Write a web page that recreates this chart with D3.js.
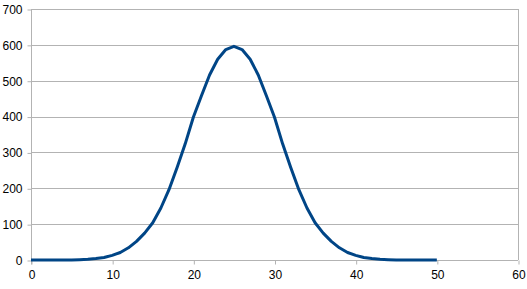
<!DOCTYPE html>
<html>
<head>
<meta charset="utf-8">
<script src="https://cdn.jsdelivr.net/npm/d3@7"></script>
<style>
  body { margin: 0; background: #fff; }
  svg { display: block; }
</style>
</head>
<body>
<div id="chart"></div>
<script>
// values, one per integer x from 0 to 50
let xs = d3.range(0, 51)
let counts = [0, 0, 0, 0, 0, 0, 1, 2, 4, 7,
              13, 21, 34, 52, 75, 104, 145, 196, 258, 324,
              398, 458, 516, 560, 587, 596, 587, 560, 516, 458,
              398, 324, 258, 196, 145, 104, 75, 52, 34, 21,
              13, 7, 4, 2, 1, 0, 0, 0, 0, 0,
              0]
let xTicks = [0, 10, 20, 30, 40, 50, 60]
let yTicks = [0, 100, 200, 300, 400, 500, 600, 700]

let width = 527
let height = 289
let margin = {top: 9, right: 9, bottom: 29, left: 31}
let grid = "#b3b3b3"

let svg = d3.select("#chart")
  .append("svg")
  .attr("width", width)
  .attr("height", height)

let x = d3.scaleLinear()
  .domain([0, 60])
  .range([margin.left, width - margin.right])

let y = d3.scaleLinear()
  .domain([0, 700])
  .range([height - margin.bottom, margin.top])

// horizontal grid
svg.append("g")
  .selectAll("line")
  .data(yTicks)
  .join("line")
    .attr("x1", x(0))
    .attr("x2", x(60))
    .attr("y1", d => Math.round(y(d)) + 0.5)
    .attr("y2", d => Math.round(y(d)) + 0.5)
    .attr("stroke", grid)

// right border
svg.append("line")
  .attr("x1", Math.round(x(60)) + 0.5)
  .attr("x2", Math.round(x(60)) + 0.5)
  .attr("y1", y(700))
  .attr("y2", y(0))
  .attr("stroke", grid)

let yAxis = g => g
  .attr("transform", `translate(${Math.round(x(0)) + 0.5},0.5)`)
  .call(d3.axisLeft(y).tickValues(yTicks).tickSize(4).tickPadding(5))
  .call(g => g.selectAll(".tick line").attr("stroke", grid))
  .call(g => g.select(".domain").attr("stroke", grid).attr("d", `M0,${y(700)}V${y(0) + 4}`))

let xAxis = g => g
  .attr("transform", `translate(0.5,${Math.round(y(0)) + 0.5})`)
  .call(d3.axisBottom(x).tickValues(xTicks).tickSize(4).tickPadding(6))
  .call(g => g.selectAll(".tick line").attr("stroke", grid))
  .call(g => g.select(".domain").remove())

svg.append("g").call(yAxis)
svg.append("g").call(xAxis)

svg.selectAll(".tick text")
  .attr("font-family", "'Liberation Sans', Arial, sans-serif")
  .attr("font-size", 12)
  .attr("fill", "#000")

// the curve
svg.append("path")
  .datum(xs)
  .attr("fill", "none")
  .attr("stroke", "#004586")
  .attr("stroke-width", 3)
  .attr("stroke-linejoin", "round")
  .attr("d", d3.line()
      .x(d => x(d))
      .y((d, i) => y(counts[i])))
</script>
</body>
</html>
